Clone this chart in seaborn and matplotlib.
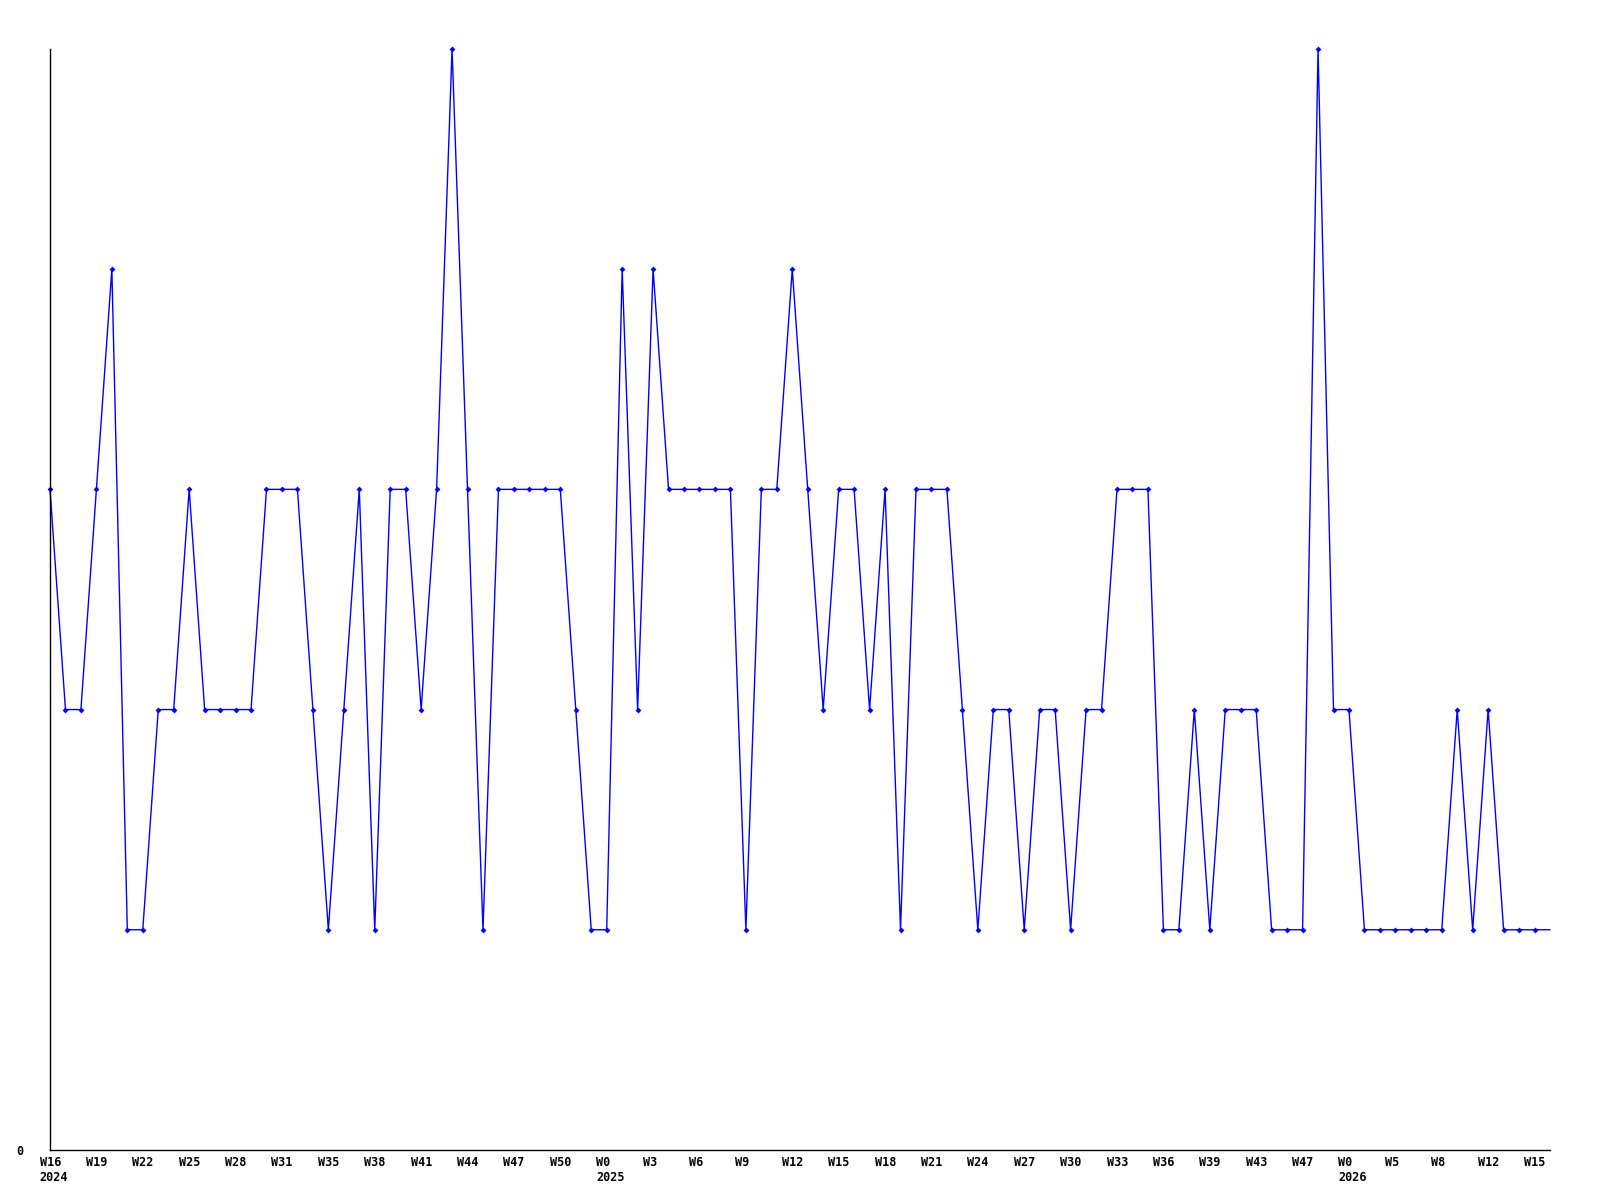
import pandas as pd
import matplotlib
matplotlib.use('Agg')
import matplotlib.pyplot as plt
import matplotlib.transforms as mtransforms
import seaborn as sns

# weekly values, W16 2024 .. W16 2026
values = [3, 2, 2, 3, 4, 1, 1, 2, 2, 3,
          2, 2, 2, 2, 3, 3, 3, 2, 1, 2,
          3, 1, 3, 3, 2, 3, 5, 3, 1, 3,
          3, 3, 3, 3, 2, 1, 1, 4, 2, 4,
          3, 3, 3, 3, 3, 1, 3, 3, 4, 3,
          2, 3, 3, 2, 3, 1, 3, 3, 3, 2,
          1, 2, 2, 1, 2, 2, 1, 2, 2, 3,
          3, 3, 1, 1, 2, 1, 2, 2, 2, 1,
          1, 1, 5, 2, 2, 1, 1, 1, 1, 1,
          1, 2, 1, 2, 1, 1, 1, 1]

tick_labels = ['W16\n2024', 'W19', 'W22', 'W25', 'W28', 'W31', 'W35', 'W38',
               'W41', 'W44', 'W47', 'W50', 'W0\n2025', 'W3', 'W6', 'W9',
               'W12', 'W15', 'W18', 'W21', 'W24', 'W27', 'W30', 'W33',
               'W36', 'W39', 'W43', 'W47', 'W0\n2026', 'W5', 'W8', 'W12',
               'W15']

df = pd.DataFrame({'idx': range(len(values)), 'value': values})

sns.set_style('white')
plt.rcParams['font.family'] = ['DejaVu Sans Mono', 'DejaVu Sans']

fig = plt.figure(figsize=(16, 12), dpi=100)
ax = fig.add_axes([0.03125, 0.0417, 0.9375, 0.9175])

sns.lineplot(data=df, x='idx', y='value', ax=ax, color='#0000ff', linewidth=1,
             marker='D', markersize=3, markeredgewidth=0,
             markevery=list(range(len(values) - 1)), clip_on=False)

ax.set_xlim(0, len(values) - 1)
ax.set_ylim(0, 5)
ax.set_xlabel('')
ax.set_ylabel('')

ax.tick_params(axis='both', length=0, labelcolor='black')
ax.tick_params(axis='x', pad=4)
ax.tick_params(axis='y', pad=19)

ax.set_xticks(range(0, len(values) - 1, 3))
ax.set_xticklabels(tick_labels, fontsize=8.5, fontweight='bold', ha='left',
                   linespacing=1.2, va='top', color='black')
ax.set_yticks([0])
ax.set_yticklabels(['0'], fontsize=8.5, fontweight='bold', color='black')

# labels start a little left of their tick
offset = mtransforms.ScaledTranslation(-10.5 / 100, 0, fig.dpi_scale_trans)
for lab in ax.get_xticklabels():
    lab.set_transform(lab.get_transform() + offset)

for side in ['top', 'right']:
    ax.spines[side].set_visible(False)
for side in ['left', 'bottom']:
    ax.spines[side].set_color('black')
    ax.spines[side].set_linewidth(1)

fig.savefig('out.png', dpi=100, facecolor='white')
